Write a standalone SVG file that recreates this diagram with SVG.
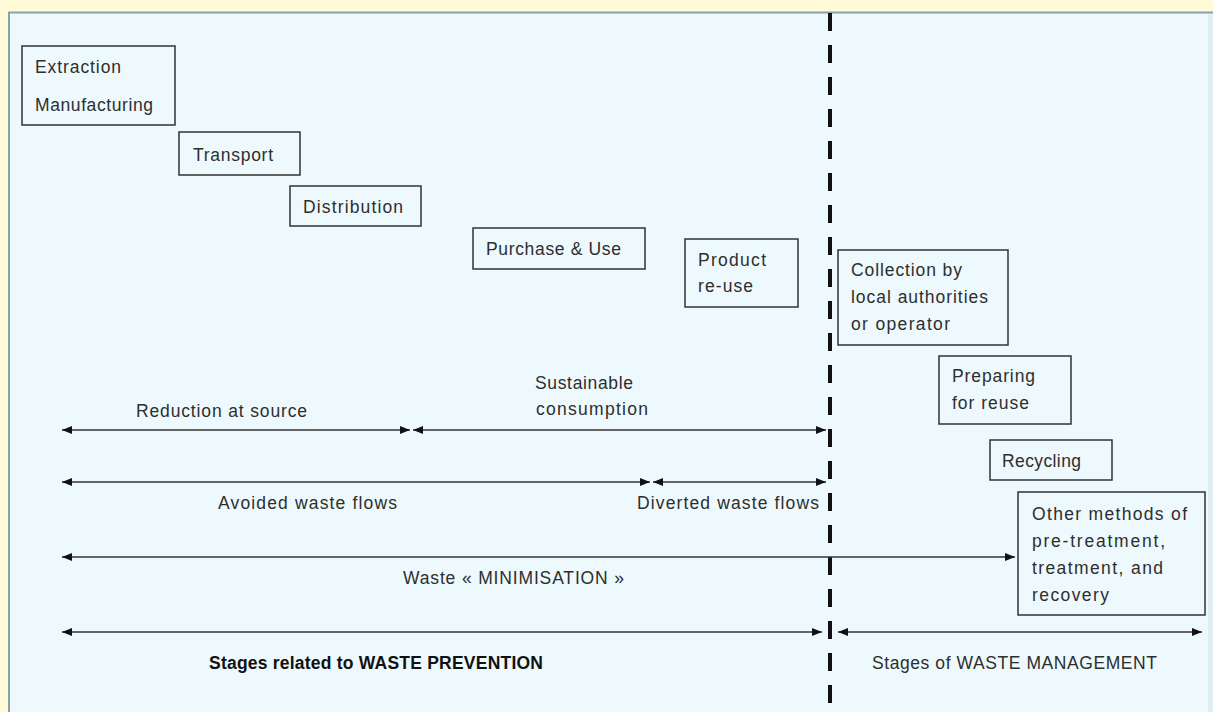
<svg xmlns="http://www.w3.org/2000/svg" width="1213" height="712" viewBox="0 0 1213 712">
<defs>
<marker id="ah" viewBox="0 0 10 8" refX="10" refY="4" markerWidth="10" markerHeight="8" markerUnits="userSpaceOnUse" orient="auto-start-reverse">
<path d="M0,0 L10,4 L0,8 Z" fill="#111"/>
</marker>
<style>
.box{fill:none;stroke:#333;stroke-width:1.5}
.t{font-family:"Liberation Sans",Arial,sans-serif;font-size:17.5px;fill:#2e2e2e}
.b{font-weight:bold;fill:#111}
.ar{stroke:#333;stroke-width:1.6;fill:none;marker-start:url(#ah);marker-end:url(#ah)}
</style>
</defs>
<rect x="0" y="0" width="1213" height="712" fill="#fffbd8"/>
<rect x="9" y="12.5" width="1210" height="710" fill="#edf9fc" stroke="#84a2a8" stroke-width="2"/>
<rect x="1208" y="14" width="5" height="698" fill="#dfeef2"/>

<g id="divider">
<line x1="830" y1="13" x2="830" y2="712" stroke="#111" stroke-width="4" stroke-dasharray="18 14"/>
</g>

<g id="n-extraction">
<rect class="box" x="22" y="46" width="153" height="79"/>
<text class="t" x="35" y="73" textLength="86">Extraction</text>
<text class="t" x="35" y="111" textLength="118">Manufacturing</text>
</g>
<g id="n-transport">
<rect class="box" x="179" y="132" width="121" height="43"/>
<text class="t" x="193" y="161" textLength="80">Transport</text>
</g>
<g id="n-distribution">
<rect class="box" x="290" y="186" width="131" height="40"/>
<text class="t" x="303" y="213" textLength="100">Distribution</text>
</g>
<g id="n-purchase">
<rect class="box" x="473" y="228" width="172" height="41"/>
<text class="t" x="486" y="255" textLength="135">Purchase &amp; Use</text>
</g>
<g id="n-reuse">
<rect class="box" x="685" y="239" width="113" height="68"/>
<text class="t" x="698" y="266" textLength="68">Product</text>
<text class="t" x="698" y="292" textLength="55">re-use</text>
</g>
<g id="n-collection">
<rect class="box" x="838" y="250" width="170" height="95"/>
<text class="t" x="851" y="276" textLength="111">Collection by</text>
<text class="t" x="851" y="303" textLength="137">local authorities</text>
<text class="t" x="851" y="330" textLength="99">or operator</text>
</g>
<g id="n-preparing">
<rect class="box" x="939" y="356" width="132" height="68"/>
<text class="t" x="952" y="382" textLength="83">Preparing</text>
<text class="t" x="952" y="409" textLength="77">for reuse</text>
</g>
<g id="n-recycling">
<rect class="box" x="990" y="440" width="122" height="40"/>
<text class="t" x="1002" y="467" textLength="79">Recycling</text>
</g>
<g id="n-other">
<rect class="box" x="1018" y="492" width="187" height="123"/>
<text class="t" x="1032" y="520" textLength="155">Other methods of</text>
<text class="t" x="1032" y="547" textLength="133">pre-treatment,</text>
<text class="t" x="1032" y="574" textLength="131">treatment, and</text>
<text class="t" x="1032" y="601" textLength="77">recovery</text>
</g>

<g id="connectors">
<line class="ar" x1="62" y1="430" x2="410" y2="430"/>
<line class="ar" x1="413" y1="430" x2="826" y2="430"/>
<line class="ar" x1="62" y1="482" x2="650" y2="482"/>
<line class="ar" x1="653" y1="482" x2="826" y2="482"/>
<line class="ar" x1="62" y1="557" x2="1015" y2="557"/>
<line class="ar" x1="62" y1="632" x2="822" y2="632"/>
<line class="ar" x1="838" y1="632" x2="1202" y2="632"/>
</g>

<g id="labels">
<text class="t" x="136" y="417" textLength="171">Reduction at source</text>
<text class="t" x="535" y="389" textLength="98">Sustainable</text>
<text class="t" x="536" y="415" textLength="112">consumption</text>
<text class="t" x="218" y="509" textLength="179">Avoided waste flows</text>
<text class="t" x="637" y="509" textLength="182">Diverted waste flows</text>
<text class="t" x="403" y="584" textLength="221">Waste « MINIMISATION »</text>
<text class="t b" x="209" y="669" textLength="334">Stages related to WASTE PREVENTION</text>
<text class="t" x="872" y="669" textLength="285">Stages of WASTE MANAGEMENT</text>
</g>
</svg>
